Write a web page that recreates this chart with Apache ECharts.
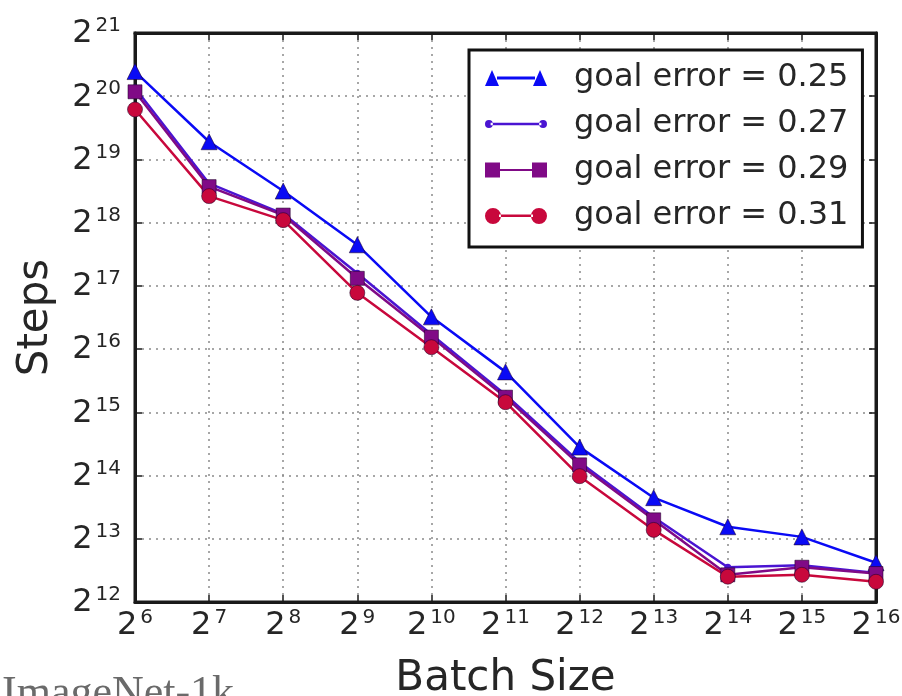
<!DOCTYPE html>
<html>
<head>
<meta charset="utf-8">
<script src="https://cdn.jsdelivr.net/npm/echarts@6/dist/echarts.min.js"></script>
<style>
html,body{margin:0;padding:0;background:#fff;}
#chart{width:902px;height:696px;}
</style>
</head>
<body>
<div id="chart"></div>
<script>
// Batch sizes (x)
var batchSizes = [64, 128, 256, 512, 1024, 2048, 4096, 8192, 16384, 32768, 65536];
// Steps to reach goal error (y)
var steps025 = [1374000, 636600, 370700, 205700, 93330, 51060, 22380, 12855, 9345, 8364, 6295];
var steps027 = [1147500, 402900, 288900, 150560, 76860, 39790, 18950, 10370, 5997, 6123, 5634];
var steps029 = [1100800, 389200, 284900, 142440, 74760, 38700, 18430, 10085, 5518, 5997, 5595];
var steps031 = [906500, 350700, 269500, 121450, 66910, 36610, 16270, 9027, 5405, 5518, 5113];
var seriesNames = ['goal error = 0.25', 'goal error = 0.27', 'goal error = 0.29', 'goal error = 0.31'];
var xName = 'Batch Size';
var yName = 'Steps';
var footNote = 'ImageNet-1k';

var FONT = 'DejaVu Sans';
var chart = echarts.init(document.getElementById('chart'), null, {renderer: 'canvas'});

function pairs(ys) { return batchSizes.map(function (x, i) { return [x, ys[i]]; }); }
function powLabel(v) { return '{b|2}{s|' + Math.round(Math.log2(v)) + '}'; }
var richLab = {
  b: {fontSize: 32, fontFamily: FONT, color: '#262626', lineHeight: 34, verticalAlign: 'bottom'},
  s: {fontSize: 20, fontFamily: FONT, color: '#262626', lineHeight: 34, verticalAlign: 'top', padding: [0, 0, 0, 3]}
};
var gridLine = {show: true, lineStyle: {color: '#8a8a8a', width: 1.5, type: [2, 5]}};

var colors = ['#0a0af5', '#4a14d2', '#800a86', '#c8083c'];
var icons = [
  'path://M0,16 L7,0 L14,16 Z M12,6.5 L50,6.5 L50,9.5 L12,9.5 Z M48,16 L55,0 L62,16 Z',
  'path://M0,3.5 A3.5,3.5 0 1,0 7,3.5 A3.5,3.5 0 1,0 0,3.5 Z M5,2.5 L50,2.5 L50,4.5 L5,4.5 Z M48,3.5 A3.5,3.5 0 1,0 55,3.5 A3.5,3.5 0 1,0 48,3.5 Z',
  'path://M0,0 L15,0 L15,15 L0,15 Z M14,6.5 L48,6.5 L48,8.5 L14,8.5 Z M47,0 L62,0 L62,15 L47,15 Z',
  'path://M0,8 A8,8 0 1,0 16,8 A8,8 0 1,0 0,8 Z M14,6.5 L48,6.5 L48,9 L14,9 Z M46,8 A8,8 0 1,0 62,8 A8,8 0 1,0 46,8 Z'
];
var symbols = ['triangle', 'circle', 'rect', 'circle'];
var symbolSizes = [16, 7, 14, 15];
var data = [steps025, steps027, steps029, steps031];

var series = data.map(function (d, i) {
  return {
    name: seriesNames[i],
    type: 'line',
    data: pairs(d),
    symbol: symbols[i],
    symbolSize: symbolSizes[i],
    showAllSymbol: true,
    color: colors[i],
    lineStyle: {color: colors[i], width: 2.5},
    itemStyle: {color: colors[i], borderColor: 'rgba(30,0,40,0.55)', borderWidth: i === 1 ? 0 : 1},
    emphasis: {disabled: true},
    animation: false
  };
});

var option = {
  animation: false,
  backgroundColor: '#ffffff',
  title: {
    text: footNote,
    left: 2, top: 672, padding: 0,
    textStyle: {fontFamily: 'Liberation Serif', fontSize: 44, fontWeight: 'normal', color: '#6a6a6a'}
  },
  grid: {left: 135, right: 26, top: 33, bottom: 94, outerBoundsMode: 'none', containLabel: false,
         show: true, borderColor: '#1a1a1a', borderWidth: 3, backgroundColor: 'transparent'},
  legend: {
    orient: 'vertical',
    left: 469, top: 50,
    padding: [11, 14, 14, 16],
    itemGap: 12,
    itemWidth: 62, itemHeight: 16,
    borderColor: '#111', borderWidth: 3,
    backgroundColor: '#fff',
    selectedMode: false,
    itemStyle: {borderWidth: 0},
    textStyle: {fontFamily: FONT, fontSize: 32, color: '#262626', lineHeight: 34, padding: [0, 0, 0, 22]},
    data: seriesNames.map(function (n, i) { return {name: n, icon: icons[i]}; })
  },
  xAxis: [{
    type: 'log', logBase: 2, min: 64, max: 65536, interval: 1,
    position: 'bottom',
    name: xName, nameLocation: 'middle', nameGap: 56,
    nameTextStyle: {fontFamily: FONT, fontSize: 42, color: '#262626'},
    axisLine: {show: true, lineStyle: {color: '#1a1a1a', width: 3}},
    axisTick: {show: true, inside: true, length: 7, lineStyle: {color: '#1a1a1a', width: 1.5}},
    axisLabel: {formatter: powLabel, rich: richLab, margin: 6},
    splitLine: gridLine,
    minorTick: {show: false}
  }, {
    type: 'log', logBase: 2, min: 64, max: 65536, interval: 1,
    position: 'top',
    axisLine: {show: true, lineStyle: {color: '#1a1a1a', width: 3}},
    axisTick: {show: true, inside: true, length: 7, lineStyle: {color: '#1a1a1a', width: 1.5}},
    axisLabel: {show: false},
    splitLine: {show: false}
  }],
  yAxis: [{
    type: 'log', logBase: 2, min: 4096, max: 2097152, interval: 1,
    position: 'left',
    name: yName, nameLocation: 'middle', nameGap: 78,
    nameTextStyle: {fontFamily: FONT, fontSize: 42, color: '#262626'},
    axisLine: {show: true, lineStyle: {color: '#1a1a1a', width: 3}},
    axisTick: {show: true, inside: true, length: 7, lineStyle: {color: '#1a1a1a', width: 1.5}},
    axisLabel: {formatter: powLabel, rich: richLab, margin: 14},
    splitLine: gridLine
  }, {
    type: 'log', logBase: 2, min: 4096, max: 2097152, interval: 1,
    position: 'right',
    axisLine: {show: true, lineStyle: {color: '#1a1a1a', width: 3}},
    axisTick: {show: true, inside: true, length: 7, lineStyle: {color: '#1a1a1a', width: 1.5}},
    axisLabel: {show: false},
    splitLine: {show: false}
  }],
  series: series
};
chart.setOption(option);
</script>
</body>
</html>
